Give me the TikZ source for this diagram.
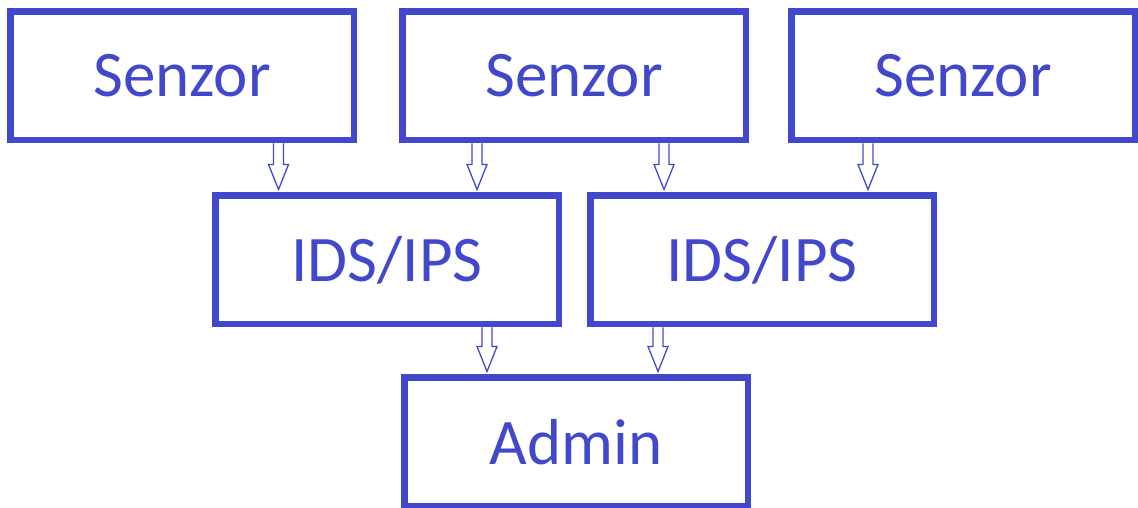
\documentclass[tikz,border=0pt]{standalone}
\usepackage{fontspec}
\setmainfont{Carlito}
\usetikzlibrary{calc}
\definecolor{boxblue}{RGB}{66,72,204}
% hollow block arrow, straight down from #1 (shifted by #2) onto #3
\newcommand\blockarrow[3]{%
  \draw[arrow] let \p1=([xshift=#2]#1.south), \p2=(#3.north) in
    (\x1-5,\y1) -- (\x1-5,\y2+28) -- (\x1-10,\y2+28) -- (\x1,\y2+3)
    -- (\x1+10,\y2+28) -- (\x1+5,\y2+28) -- (\x1+5,\y1);}

\begin{document}
\begin{tikzpicture}[x=1pt,y=1pt,
  box/.style={draw=boxblue,line width=6.5pt,fill=white,text=boxblue,
    minimum width=343.5pt,minimum height=128.5pt,inner sep=0pt,
    font=\fontsize{65}{78}\selectfont},
  arrow/.style={draw=boxblue,line width=1.3pt,line join=miter}]
\useasboundingbox (0,0) rectangle (1138,508);
% sensors
\node[box] (s1) at (182,432) {Senzor};
\node[box] (s2) at (574,432) {Senzor};
\node[box] (s3) at (963,432) {Senzor};
% detection
\node[box] (i1) at (387,248) {IDS/IPS};
\node[box] (i2) at (762,248) {IDS/IPS};
% admin
\node[box] (a) at (576,66) {Admin};
% arrows
\blockarrow{s1}{96.5}{i1}
\blockarrow{s2}{-97}{i1}
\blockarrow{s2}{90}{i2}
\blockarrow{s3}{-95}{i2}
\blockarrow{i1}{100}{a}
\blockarrow{i2}{-104}{a}
\end{tikzpicture}
\end{document}
